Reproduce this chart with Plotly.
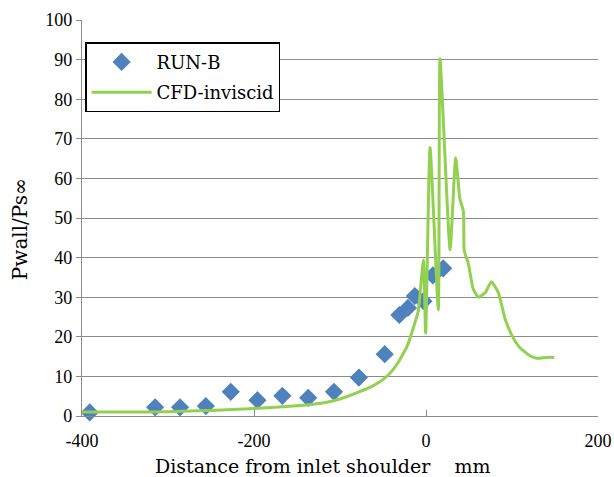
import plotly.graph_objects as go

# RUN-B experimental data
run_x = [-391, -315, -286, -256, -227, -196, -167, -137, -107, -78, -48, -31, -21, -13, -3, 8, 20]
run_y = [0.9, 2.2, 2.2, 2.5, 6.1, 4.0, 5.1, 4.6, 6.1, 9.7, 15.6, 25.5, 27.3, 30.3, 29.0, 35.5, 37.3]

# CFD-inviscid curve
cfd_x = [-400, -350, -300, -250, -200, -150, -120, -100, -80, -60, -45, -34, -22, -13, -9,
         -3, -0.4, 4.7, 14.3, 16.3, 28, 34.5, 39.5, 43.5, 44.5, 49, 55, 61, 69, 76, 84,
         92, 100, 109, 121, 129, 140, 149]
cfd_y = [1.0, 1.0, 1.1, 1.4, 1.9, 2.6, 3.3, 4.3, 5.9, 7.8, 10.1, 13.0, 17.6, 23.5, 26.5,
         39.4, 20.9, 67.8, 26.8, 90.2, 42.0, 65.2, 54.7, 51.7, 41.7, 38.7, 32.0, 30.0, 31.2, 33.9, 31.2,
         24.5, 20.3, 17.3, 15.2, 14.6, 14.8, 14.8]

x_ticks = [-400, -200, 0, 200]
y_ticks = [0, 10, 20, 30, 40, 50, 60, 70, 80, 90, 100]

x_title = "Distance from inlet shoulder\u00a0\u00a0\u00a0\u00a0mm"
y_title = "Pwall/Ps\u221e"

TICKFONT = "Liberation Serif"
TEXTFONT = "DejaVu Serif"
GRID = "#8c8c8c"

fig = go.Figure()
fig.add_trace(go.Scatter(
    x=run_x, y=run_y, mode="markers", name="RUN-B", legendgroup="a",
    marker=dict(symbol="diamond", size=14, color="#4F81BD", line=dict(width=0)),
    cliponaxis=False,
))
fig.add_trace(go.Scatter(
    x=cfd_x, y=cfd_y, mode="lines", name="CFD-inviscid", legendgroup="b",
    line=dict(color="#92D050", width=3, shape="spline", smoothing=0.5),
))

fig.add_annotation(text=x_title, xref="paper", yref="paper", x=0.467, y=-0.126,
                   xanchor="center", yanchor="middle", showarrow=False,
                   font=dict(family=TEXTFONT, size=19, color="black"))
fig.add_annotation(text=y_title, xref="paper", yref="paper", x=-0.120, y=0.472,
                   xanchor="center", yanchor="middle", showarrow=False, textangle=-90,
                   font=dict(family=TEXTFONT, size=20, color="black"))

fig.update_layout(
    width=614, height=477,
    margin=dict(l=82, r=16, t=20, b=61),
    paper_bgcolor="white", plot_bgcolor="white",
    font=dict(family=TICKFONT, size=18, color="black"),
    showlegend=True,
    legend=dict(
        x=0.006, y=0.944, xanchor="left", yanchor="top",
        bgcolor="white", bordercolor="black", borderwidth=1.5,
        font=dict(family=TEXTFONT, size=18, color="black"),
        tracegroupgap=4, itemwidth=60,
    ),
    xaxis=dict(
        range=[-400, 200], tickvals=x_ticks, ticktext=[str(v) for v in x_ticks],
        showgrid=False, zeroline=False, automargin=False,
        showline=True, linecolor=GRID, linewidth=1.2,
        ticks="inside", ticklen=6, tickcolor=GRID,
        ticklabelstandoff=8,
        tickfont=dict(family=TICKFONT, size=18),
    ),
    yaxis=dict(
        range=[0, 100], tickvals=y_ticks, ticktext=[str(v) for v in y_ticks],
        showgrid=True, gridcolor=GRID, gridwidth=1.2,
        zeroline=False, automargin=False,
        showline=True, linecolor=GRID, linewidth=1.2,
        ticks="outside", ticklen=5, tickcolor=GRID,
        tickfont=dict(family=TICKFONT, size=18),
    ),
)

fig.write_html("out.html", config={"displayModeBar": False},
               post_script="document.body.style.margin='0';")
